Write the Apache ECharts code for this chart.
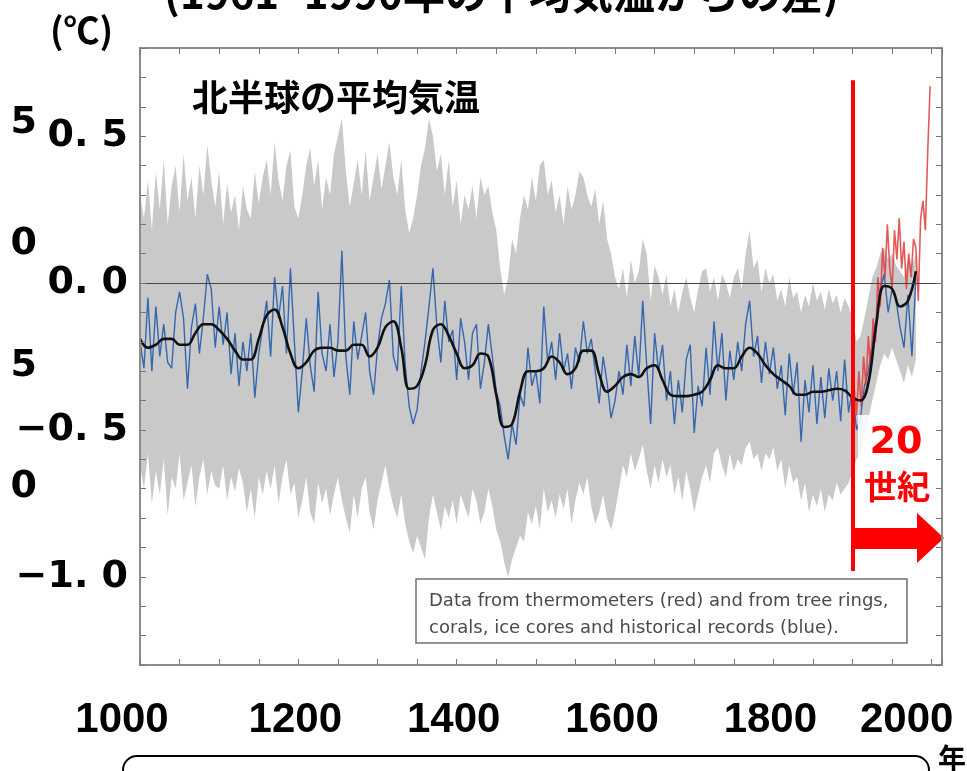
<!DOCTYPE html>
<html>
<head>
<meta charset="utf-8">
<script src="https://cdn.jsdelivr.net/npm/echarts@6/dist/echarts.min.js"></script>
<style>
  html, body { margin: 0; padding: 0; background: #fff; }
  #chart { width: 967px; height: 771px; }
</style>
</head>
<body>
<div id="chart"></div>
<script>
// reconstruction, one value every 5 years from 1000
const START = 1000
const STEP = 5

const blueVals = [
  -0.20,-0.29,-0.05,-0.30,-0.08,-0.25,-0.14,-0.27,-0.29,-0.10,-0.03,-0.12,-0.36,-0.15,-0.07,-0.24,-0.12,0.03,-0.02,-0.22,
  -0.08,-0.21,-0.10,-0.31,-0.17,-0.35,-0.20,-0.30,-0.17,-0.39,-0.24,-0.15,-0.06,-0.25,0.02,-0.12,-0.01,-0.24,0.05,-0.20,
  -0.44,-0.30,-0.12,-0.28,-0.37,-0.03,-0.24,-0.30,-0.14,-0.32,-0.20,0.11,-0.25,-0.38,-0.13,-0.26,-0.18,-0.10,-0.30,-0.38,
  -0.22,-0.12,-0.07,0.01,-0.25,-0.30,-0.01,-0.28,-0.42,-0.48,-0.43,-0.30,-0.20,-0.08,0.05,-0.15,-0.27,-0.06,-0.20,-0.16,
  -0.33,-0.12,-0.20,-0.33,-0.17,-0.14,-0.36,-0.27,-0.14,-0.25,-0.37,-0.42,-0.52,-0.60,-0.48,-0.55,-0.38,-0.42,-0.22,-0.35,
  -0.30,-0.41,-0.08,-0.27,-0.20,-0.33,-0.17,-0.30,-0.24,-0.36,-0.22,-0.27,-0.13,-0.24,-0.19,-0.30,-0.41,-0.25,-0.34,-0.46,
  -0.40,-0.30,-0.38,-0.21,-0.35,-0.18,-0.32,-0.06,-0.28,-0.48,-0.17,-0.30,-0.21,-0.40,-0.30,-0.48,-0.33,-0.44,-0.26,-0.21,
  -0.51,-0.35,-0.42,-0.22,-0.38,-0.13,-0.30,-0.17,-0.40,-0.23,-0.33,-0.20,-0.30,-0.14,-0.06,-0.25,-0.18,-0.34,-0.20,-0.31,
  -0.22,-0.36,-0.28,-0.45,-0.24,-0.38,-0.27,-0.54,-0.33,-0.44,-0.28,-0.48,-0.32,-0.46,-0.29,-0.40,-0.30,-0.47,-0.26,-0.44,
  -0.36,-0.50,-0.46,-0.35,-0.30,-0.20,-0.12,-0.02,0.03,-0.10,-0.02,-0.06,-0.15,-0.22,-0.04,-0.25,0.02
]

// uncertainty band (grey)
const bandUpper = [
  0.30,0.22,0.35,0.18,0.38,0.25,0.42,0.20,0.33,0.40,0.24,0.44,0.28,0.36,0.22,0.40,0.30,0.47,0.35,0.26,
  0.38,0.20,0.34,0.24,0.30,0.18,0.33,0.25,0.22,0.38,0.27,0.36,0.42,0.30,0.48,0.35,0.28,0.40,0.45,0.26,
  0.22,0.30,0.40,0.46,0.33,0.42,0.25,0.36,0.30,0.44,0.50,0.56,0.38,0.26,0.34,0.42,0.30,0.45,0.28,0.36,
  0.44,0.32,0.40,0.48,0.36,0.30,0.42,0.25,0.17,0.22,0.30,0.40,0.46,0.56,0.50,0.38,0.44,0.30,0.42,0.26,
  0.35,0.20,0.30,0.25,0.33,0.22,0.36,0.30,0.33,0.24,0.18,0.05,-0.04,0.02,0.15,0.10,0.22,0.30,0.25,0.36,
  0.28,0.40,0.42,0.30,0.35,0.24,0.30,0.20,0.33,0.25,0.30,0.38,0.36,0.30,0.26,0.32,0.20,0.28,0.15,0.10,
  0.02,-0.02,0.05,-0.05,0.08,0.00,0.04,0.15,0.10,-0.06,0.06,0.02,-0.04,0.03,-0.08,-0.02,-0.10,-0.03,0.02,-0.05,
  -0.10,-0.02,0.04,0.05,-0.03,0.02,-0.06,0.03,0.00,-0.05,0.02,0.05,-0.02,0.10,0.18,0.05,0.08,-0.03,0.05,0.00,
  0.03,-0.06,-0.02,-0.08,0.02,-0.05,-0.03,-0.10,-0.04,-0.08,0.00,-0.06,-0.03,-0.09,-0.02,-0.07,-0.04,-0.10,-0.05,-0.08,
  -0.12,-0.20,-0.18,-0.12,-0.05,0.02,0.05,0.10,0.12,0.08,0.10,0.06,0.04,0.02,0.08,0.06,0.10
]
const bandLower = [
  -0.62,-0.70,-0.58,-0.75,-0.64,-0.72,-0.60,-0.79,-0.66,-0.70,-0.58,-0.74,-0.68,-0.62,-0.76,-0.66,-0.60,-0.72,-0.64,-0.69,
  -0.70,-0.62,-0.74,-0.66,-0.71,-0.63,-0.68,-0.78,-0.70,-0.80,-0.66,-0.72,-0.64,-0.70,-0.62,-0.75,-0.66,-0.60,-0.72,-0.68,
  -0.80,-0.74,-0.66,-0.78,-0.82,-0.68,-0.75,-0.70,-0.79,-0.72,-0.66,-0.74,-0.80,-0.85,-0.72,-0.80,-0.70,-0.66,-0.78,-0.84,
  -0.74,-0.68,-0.62,-0.70,-0.76,-0.80,-0.72,-0.82,-0.88,-0.92,-0.86,-0.90,-0.94,-0.80,-0.72,-0.78,-0.84,-0.76,-0.80,-0.74,
  -0.82,-0.72,-0.76,-0.80,-0.70,-0.74,-0.82,-0.78,-0.70,-0.76,-0.84,-0.88,-0.95,-1.00,-0.94,-0.90,-0.86,-0.88,-0.78,-0.82,
  -0.76,-0.84,-0.70,-0.78,-0.74,-0.80,-0.72,-0.77,-0.70,-0.82,-0.74,-0.68,-0.72,-0.66,-0.76,-0.82,-0.78,-0.72,-0.80,-0.84,
  -0.78,-0.70,-0.62,-0.66,-0.58,-0.64,-0.60,-0.55,-0.64,-0.70,-0.62,-0.68,-0.60,-0.66,-0.62,-0.72,-0.66,-0.74,-0.64,-0.70,
  -0.78,-0.72,-0.66,-0.62,-0.68,-0.58,-0.56,-0.62,-0.66,-0.58,-0.64,-0.60,-0.62,-0.56,-0.54,-0.60,-0.58,-0.64,-0.58,-0.60,
  -0.56,-0.64,-0.60,-0.70,-0.62,-0.68,-0.66,-0.74,-0.68,-0.78,-0.72,-0.76,-0.70,-0.78,-0.72,-0.74,-0.68,-0.72,-0.70,-0.68,
  -0.64,-0.60,-0.58,-0.52,-0.46,-0.40,-0.34,-0.28,-0.24,-0.26,-0.22,-0.26,-0.30,-0.34,-0.28,-0.32,-0.26
]

// smoothed curve, one value every 10 years from 1000
const SMOOTH_STEP = 10
const smoothVals = [
  -0.19,-0.22,-0.21,-0.19,-0.19,-0.21,-0.21,-0.17,-0.14,-0.14,
  -0.16,-0.19,-0.23,-0.26,-0.26,-0.19,-0.11,-0.09,-0.15,-0.24,
  -0.29,-0.27,-0.23,-0.22,-0.22,-0.23,-0.23,-0.21,-0.21,-0.25,
  -0.22,-0.15,-0.13,-0.22,-0.36,-0.35,-0.28,-0.16,-0.14,-0.18,
  -0.24,-0.29,-0.28,-0.24,-0.25,-0.38,-0.49,-0.48,-0.37,-0.30,
  -0.30,-0.29,-0.25,-0.27,-0.31,-0.29,-0.23,-0.23,-0.31,-0.37,
  -0.35,-0.32,-0.31,-0.32,-0.29,-0.28,-0.33,-0.38,-0.385,-0.385,
  -0.38,-0.37,-0.33,-0.28,-0.29,-0.29,-0.25,-0.22,-0.24,-0.28,
  -0.31,-0.33,-0.35,-0.38,-0.38,-0.37,-0.37,-0.365,-0.36,-0.365,
  -0.39,-0.40,-0.34,-0.14,-0.01,-0.02,-0.08,-0.06,0.04
]

// thermometer record (red)
const redYears = [1902,1905,1908,1911,1914,1917,1920,1923,1926,1929,1932,1935,1938,1941,1944,1947,1950,1953,1956,1959,1962,1965,1968,1971,1974,1977,1980,1983,1986,1989,1992,1995,1998]
const redVals = [-0.36,-0.45,-0.30,-0.42,-0.25,-0.35,-0.18,-0.30,-0.12,-0.20,0.02,-0.08,0.12,0.02,0.20,0.05,-0.02,0.18,0.08,0.22,0.05,0.14,-0.02,0.10,0.02,0.15,0.12,-0.06,0.22,0.28,0.18,0.45,0.67]

const xTickLabels = [1000, 1200, 1400, 1600, 1800, 2000]
const yTickLabels = { '5': '0. 5', '0': '0. 0', '-5': '−0. 5', '-10': '−1. 0' }
const strayLabels = ['0', '5', '0', '5']  // leftover labels at the far left, bottom to top

const CENTURY20 = 1900.5

function pairs(vals, step) {
  return vals.map((v, i) => [START + i * step, v])
}

var chart = echarts.init(document.getElementById('chart'))

var frameLine = { show: true, onZero: false, lineStyle: { color: '#8c8c8c', width: 2 } }
var innerTick = { show: true, inside: true, length: 6, lineStyle: { color: '#777', width: 1 } }
var bigFont = { fontFamily: 'DejaVu Sans', fontWeight: 'bold', fontSize: 38, color: '#000' }
var xFont = { fontFamily: '"Liberation Sans", Arial, sans-serif', fontWeight: 'bold', fontSize: 42, color: '#000' }

// grey band as one polygon: upper edge forward, lower edge back
function renderBand(params, api) {
  if (params.dataIndex !== 0) return
  var pts = []
  for (var i = 0; i < bandUpper.length; i++) pts.push(api.coord([START + i * STEP, bandUpper[i]]))
  for (var j = bandLower.length - 1; j >= 0; j--) pts.push(api.coord([START + j * STEP, bandLower[j]]))
  return {
    type: 'polygon',
    shape: { points: pts },
    style: { fill: '#c9c9c9', stroke: null }
  }
}

var option = {
  animation: false,
  backgroundColor: '#fff',
  grid: [
    { left: 140, right: 25, top: 48, bottom: 106, show: false },
    { left: 140, right: 25, top: 123, bottom: 284, show: false }
  ],
  xAxis: [
    {
      type: 'value', gridIndex: 0, position: 'bottom', min: 1000, max: 2013, interval: 50, z: 5,
      axisLine: frameLine, axisTick: innerTick, splitLine: { show: false },
      axisLabel: {
        margin: 34,
        formatter: function (v) {
          var r = Math.round(v)
          if (Math.abs(v - r) > 0.01) return ''
          var i = xTickLabels.indexOf(r)
          if (i < 0) return ''
          var key = i === 0 ? 'first' : (i === xTickLabels.length - 1 ? 'last' : 'mid')
          return '{' + key + '|' + r + '}'
        },
        rich: {
          first: Object.assign({ padding: [0, 36, 0, 0] }, xFont),
          mid: Object.assign({ padding: [0, 6, 0, 0] }, xFont),
          last: Object.assign({ padding: [0, 50, 0, 0] }, xFont)
        }
      }
    },
    {
      type: 'value', gridIndex: 0, position: 'top', min: 1000, max: 2013, interval: 50, z: 5,
      axisLine: frameLine, axisTick: innerTick, axisLabel: { show: false }, splitLine: { show: false }
    },
    { type: 'value', gridIndex: 1, min: 0, max: 1, show: false }
  ],
  yAxis: [
    {
      type: 'value', gridIndex: 0, position: 'left', min: -1.3, max: 0.8, interval: 0.1, z: 5,
      axisLine: frameLine, axisTick: innerTick, splitLine: { show: false },
      axisLabel: Object.assign({
        margin: 12,
        formatter: function (v) { return yTickLabels[String(Math.round(v * 10))] || '' }
      }, bigFont)
    },
    {
      type: 'value', gridIndex: 0, position: 'right', min: -1.3, max: 0.8, interval: 0.1, z: 5,
      axisLine: frameLine, axisTick: innerTick, axisLabel: { show: false }, splitLine: { show: false }
    },
    {
      type: 'value', gridIndex: 1, position: 'left', min: 0, max: 3, interval: 1,
      axisLine: { show: false }, axisTick: { show: false }, splitLine: { show: false },
      axisLabel: Object.assign({
        margin: 103,
        formatter: function (v) { return strayLabels[Math.round(v)] || '' }
      }, bigFont)
    }
  ],
  series: [
    {
      name: 'band', type: 'custom', silent: true, clip: true,
      renderItem: renderBand,
      data: pairs(bandUpper, STEP)
    },
    {
      name: 'blue', type: 'line', symbol: 'none', silent: true,
      lineStyle: { color: '#3567b0', width: 1.4 },
      data: pairs(blueVals, STEP),
      markLine: {
        silent: true, symbol: ['none', 'none'], label: { show: false },
        lineStyle: { color: '#444', width: 1, type: 'solid' },
        data: [{ yAxis: 0 }]
      }
    },
    {
      name: 'red', type: 'line', symbol: 'none', silent: true,
      lineStyle: { color: 'rgba(225,60,60,0.85)', width: 1.6 },
      data: redYears.map((y, i) => [y, redVals[i]])
    },
    {
      name: 'smooth', type: 'line', symbol: 'none', silent: true, smooth: 0.4,
      lineStyle: { color: '#111', width: 2.6 },
      data: pairs(smoothVals, SMOOTH_STEP),
      markLine: {
        silent: true, label: { show: false }, symbol: ['none', 'none'],
        data: [
          [
            { coord: [CENTURY20, 0.69], symbol: 'none', lineStyle: { color: '#ff0000', width: 4, type: 'solid' } },
            { coord: [CENTURY20, -0.98], symbol: 'none', lineStyle: { color: '#ff0000', width: 4, type: 'solid' } }
          ],
          [
            { coord: [CENTURY20, -0.868], symbol: 'none', lineStyle: { color: '#ff0000', width: 21, type: 'solid' } },
            { coord: [1998.5, -0.868], symbol: 'triangle', symbolSize: [50, 27], itemStyle: { color: '#ff0000' }, lineStyle: { color: '#ff0000', width: 21, type: 'solid' } }
          ]
        ]
      }
    }
  ],
  graphic: [
    {
      type: 'text', x: 164, y: -28, z: 50,
      style: { text: '(1961−1990年の平均気温からの差)', font: 'bold 42px "Noto Sans CJK JP"', fill: '#000' }
    },
    {
      type: 'text', x: 50, y: 30, z: 50,
      style: { text: '(℃)', font: 'bold 36px "Noto Sans CJK JP"', fill: '#000', verticalAlign: 'middle', textVerticalAlign: 'middle' }
    },
    {
      type: 'text', x: 192, y: 97, z: 50,
      style: { text: '北半球の平均気温', font: 'bold 36px "Noto Sans CJK JP"', fill: '#000', verticalAlign: 'middle', textVerticalAlign: 'middle' }
    },
    {
      type: 'rect', z: 40,
      shape: { x: 416, y: 579, width: 491, height: 64 },
      style: { fill: '#fff', stroke: '#707070', lineWidth: 1.5 }
    },
    {
      type: 'text', x: 429, y: 601, z: 41,
      style: { text: 'Data from thermometers (red) and from tree rings,', font: '18px "DejaVu Sans"', fill: '#4a4a4a', verticalAlign: 'middle', textVerticalAlign: 'middle' }
    },
    {
      type: 'text', x: 429, y: 628, z: 41,
      style: { text: 'corals, ice cores and historical records (blue).', font: '18px "DejaVu Sans"', fill: '#4a4a4a', verticalAlign: 'middle', textVerticalAlign: 'middle' }
    },
    {
      type: 'rect', z: 40,
      shape: { x: 858, y: 415, width: 78, height: 97 },
      style: { fill: 'rgba(255,255,255,0.85)' }
    },
    {
      type: 'text', x: 896, y: 443, z: 41,
      style: { text: '20', font: 'bold 38px "DejaVu Sans"', fill: '#ff0000', align: 'center', textAlign: 'center', verticalAlign: 'middle', textVerticalAlign: 'middle' }
    },
    {
      type: 'text', x: 897, y: 486, z: 41,
      style: { text: '世紀', font: 'bold 33px "Noto Sans CJK JP"', fill: '#ff0000', align: 'center', textAlign: 'center', verticalAlign: 'middle', textVerticalAlign: 'middle' }
    },
    {
      type: 'rect', z: 40,
      shape: { x: 123, y: 756, width: 806, height: 60, r: 14 },
      style: { fill: 'none', stroke: '#000', lineWidth: 2 }
    },
    {
      type: 'text', x: 938, y: 744, z: 41,
      style: { text: '年', font: 'bold 28px "Noto Sans CJK JP"', fill: '#000' }
    }
  ]
}

chart.setOption(option)
</script>
</body>
</html>
